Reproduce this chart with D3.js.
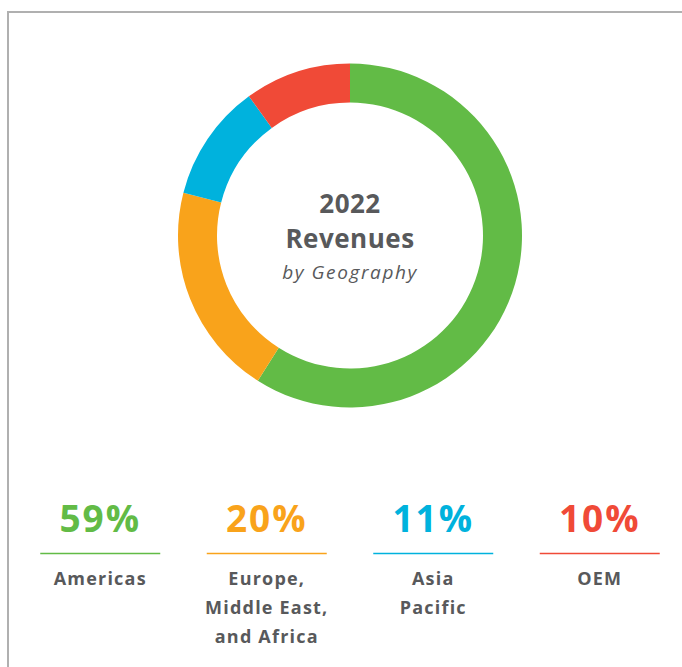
<!DOCTYPE html>
<html lang="en">
<head>
    <meta charset='utf-8'>
    <title>2022 Revenues by Geography</title>
    <style>
        html, body { margin: 0; padding: 0; background: #fff; }
        svg { display: block; }
    </style>
</head>
<body>
<svg></svg>
<script src="https://cdn.jsdelivr.net/npm/d3@7"></script>
<script>
    const regions = ["Americas", "Europe, Middle East, and Africa", "Asia Pacific", "OEM"]
    const shares = [59, 20, 11, 10]
    const labelLines = [["Americas"], ["Europe,", "Middle East,", "and Africa"], ["Asia", "Pacific"], ["OEM"]]
    const colors = ["#62bb46", "#f9a31b", "#00b2dd", "#f04a37"]

    const width = 682
    const height = 667
    const textColor = "#58595b"
    const font = "'Open Sans', sans-serif"

    const svg = d3.select("svg")
        .attr("width", width)
        .attr("height", height)
        .attr("viewBox", [0, 0, width, height])

    // frame
    svg.append("path")
        .attr("d", `M8,${height} V12 H${width}`)
        .attr("fill", "none")
        .attr("stroke", "#b0b0b0")
        .attr("stroke-width", 2)

    const data = regions.map((name, i) => ({ name, value: shares[i], color: colors[i] }))

    const pie = d3.pie()
        .sort(null)
        .value(d => d.value)

    const arc = d3.arc()
        .innerRadius(133)
        .outerRadius(172)

    const donut = svg.append("g")
        .attr("transform", "translate(350,235.5)")

    donut.selectAll("path")
        .data(pie(data))
        .join("path")
        .attr("d", arc)
        .attr("fill", d => d.data.color)

    const title = donut.append("g")
        .attr("text-anchor", "middle")
        .attr("fill", textColor)
        .attr("font-family", font)

    title.append("text")
        .attr("y", -23)
        .attr("font-size", 26)
        .attr("font-weight", 700)
        .attr("letter-spacing", 0.5)
        .text("2022")

    title.append("text")
        .attr("y", 12)
        .attr("font-size", 26)
        .attr("font-weight", 700)
        .attr("letter-spacing", 0.5)
        .text("Revenues")

    title.append("text")
        .attr("y", 43)
        .attr("font-size", 19)
        .attr("font-style", "italic")
        .attr("letter-spacing", 1.6)
        .text("by Geography")

    // legend
    const x = d3.scaleBand()
        .domain(d3.range(data.length))
        .range([17, 683])

    const legend = svg.append("g")
        .attr("font-family", font)
        .attr("text-anchor", "middle")
        .selectAll("g")
        .data(data)
        .join("g")
        .attr("transform", (d, i) => `translate(${x(i) + x.bandwidth() / 2},0)`)

    legend.append("text")
        .attr("y", 532)
        .attr("font-size", 37)
        .attr("font-weight", 700)
        .attr("letter-spacing", 2)
        .attr("fill", d => d.color)
        .text(d => d.value + "%")

    legend.append("line")
        .attr("x1", -60)
        .attr("x2", 60)
        .attr("y1", 553.5)
        .attr("y2", 553.5)
        .attr("stroke", d => d.color)
        .attr("stroke-width", 1.5)

    legend.append("text")
        .attr("font-size", 18)
        .attr("font-weight", 700)
        .attr("letter-spacing", 1.2)
        .attr("fill", textColor)
        .selectAll("tspan")
        .data((d, i) => labelLines[i])
        .join("tspan")
        .attr("x", 0)
        .attr("y", (d, j) => 585 + j * 29)
        .text(d => d)
</script>
</body>
</html>
